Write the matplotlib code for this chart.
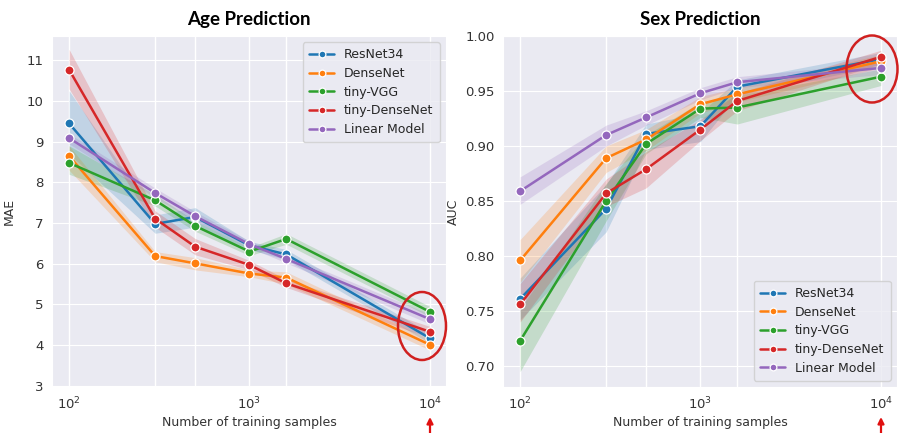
import numpy as np
import matplotlib
matplotlib.use('Agg')
from matplotlib import pyplot as plt
from matplotlib.patches import Ellipse
import seaborn as sns

# data
n_samples = [100, 300, 500, 1000, 1600, 10000]
models = ['ResNet34', 'DenseNet', 'tiny-VGG', 'tiny-DenseNet', 'Linear Model']

# age prediction (MAE): mean, lower, upper
age_mean = {
	'ResNet34':      [9.45, 6.98, 7.15, 6.45, 6.23, 4.17],
	'DenseNet':      [8.65, 6.19, 6.01, 5.76, 5.66, 4.01],
	'tiny-VGG':      [8.48, 7.56, 6.93, 6.30, 6.61, 4.82],
	'tiny-DenseNet': [10.77, 7.11, 6.42, 5.97, 5.52, 4.33],
	'Linear Model':  [9.09, 7.74, 7.17, 6.48, 6.12, 4.64],
}
age_lo = {
	'ResNet34':      [8.70, 6.75, 6.90, 6.35, 6.10, 4.05],
	'DenseNet':      [8.30, 6.05, 5.85, 5.68, 5.50, 3.88],
	'tiny-VGG':      [8.20, 7.42, 6.80, 6.20, 6.48, 4.70],
	'tiny-DenseNet': [10.30, 6.90, 6.22, 5.85, 5.42, 4.18],
	'Linear Model':  [8.95, 7.62, 7.05, 6.40, 6.02, 4.52],
}
age_hi = {
	'ResNet34':      [10.25, 7.20, 7.38, 6.55, 6.35, 4.30],
	'DenseNet':      [8.90, 6.30, 6.15, 5.85, 5.80, 4.14],
	'tiny-VGG':      [8.90, 7.70, 7.05, 6.40, 6.74, 4.95],
	'tiny-DenseNet': [11.27, 7.30, 6.62, 6.08, 5.62, 4.46],
	'Linear Model':  [9.20, 7.86, 7.28, 6.56, 6.22, 4.76],
}

# sex prediction (AUC): mean, lower, upper
sex_mean = {
	'ResNet34':      [0.761, 0.843, 0.911, 0.918, 0.954, 0.979],
	'DenseNet':      [0.796, 0.889, 0.906, 0.938, 0.947, 0.977],
	'tiny-VGG':      [0.723, 0.850, 0.902, 0.934, 0.935, 0.963],
	'tiny-DenseNet': [0.756, 0.857, 0.879, 0.915, 0.941, 0.981],
	'Linear Model':  [0.859, 0.910, 0.926, 0.948, 0.958, 0.971],
}
sex_lo = {
	'ResNet34':      [0.742, 0.822, 0.897, 0.904, 0.946, 0.973],
	'DenseNet':      [0.776, 0.876, 0.896, 0.930, 0.940, 0.971],
	'tiny-VGG':      [0.695, 0.832, 0.893, 0.926, 0.920, 0.955],
	'tiny-DenseNet': [0.740, 0.845, 0.862, 0.905, 0.932, 0.975],
	'Linear Model':  [0.847, 0.900, 0.919, 0.942, 0.953, 0.965],
}
sex_hi = {
	'ResNet34':      [0.780, 0.865, 0.920, 0.930, 0.960, 0.985],
	'DenseNet':      [0.815, 0.900, 0.915, 0.945, 0.953, 0.983],
	'tiny-VGG':      [0.752, 0.866, 0.910, 0.940, 0.946, 0.970],
	'tiny-DenseNet': [0.775, 0.870, 0.895, 0.924, 0.948, 0.987],
	'Linear Model':  [0.872, 0.919, 0.932, 0.953, 0.963, 0.976],
}

colors = ['#1f77b4', '#ff7f0e', '#2ca02c', '#d62728', '#9467bd']

sns.set_style('darkgrid')
plt.rcParams['font.family'] = ['DejaVu Sans']

W, H = 899, 433
fig = plt.figure(figsize=(W/100, H/100), dpi=100)
ax1 = fig.add_axes([52/W, 1-387/H, (446-52)/W, (387-36)/H])
ax2 = fig.add_axes([503/W, 1-387/H, (897-503)/W, (387-36)/H])

def draw(ax, mean, lo, hi, ylabel, title, ylim, yticks, yfmt, legloc) :
	for m, c in zip(models, colors) :
		ax.fill_between(n_samples, lo[m], hi[m], color=c, alpha=0.2, lw=0)
		ax.plot(n_samples, mean[m], '-o', color=c, lw=1.8, ms=6.5,
			mec='white', mew=0.9, label=m)
	ax.set_xscale('log')
	ax.set_xlim(10**1.905, 10**4.09)
	ax.set_xticks([100, 1000, 10000])
	ax.set_xticks([300, 500, 1600], minor=True)
	ax.xaxis.set_minor_formatter(plt.NullFormatter())
	ax.grid(True, which='both', axis='x', color='white', lw=1.0)
	ax.tick_params(which='both', length=0, labelsize=9.5, colors='#333333', pad=6)
	ax.set_ylim(*ylim)
	ax.set_yticks(yticks)
	ax.set_yticklabels([yfmt.format(v) for v in yticks])
	ax.set_xlabel('Number of training samples', fontsize=9, color='#333333', labelpad=3)
	ax.set_ylabel(ylabel, fontsize=9, color='#333333')
	ax.set_title(title, fontsize=13.5, fontweight='bold', color='black',
		family=['Lato', 'DejaVu Sans'], pad=8)
	leg = ax.legend(loc=legloc, fontsize=9, handlelength=2.0, borderpad=0.5,
		labelspacing=0.45, frameon=True, markerscale=0.75)
	leg.get_frame().set_edgecolor('#cccccc')

draw(ax1, age_mean, age_lo, age_hi, 'MAE', 'Age Prediction', (2.97, 11.6),
	[3, 4, 5, 6, 7, 8, 9, 10, 11], '{:d}', 'upper right')
draw(ax2, sex_mean, sex_lo, sex_hi, 'AUC', 'Sex Prediction', (0.681, 1.0),
	[0.70, 0.75, 0.80, 0.85, 0.90, 0.95, 1.00], '{:.2f}', 'lower right')
ax1.yaxis.labelpad = 8
ax2.yaxis.labelpad = 4

# red rings and arrows marking 10^4
for cx, cy, w, h in [(422, 326, 48, 68), (872, 69, 51, 67)] :
	fig.patches.append(Ellipse((cx/W, 1-cy/H), w/W, h/H, transform=fig.transFigure,
		fill=False, ec='#d02020', lw=1.8))
for ax_x in [430, 881] :
	fig.add_artist(plt.Annotation('', xy=(ax_x/W, 1-417/H), xytext=(ax_x/W, 1-434/H),
		xycoords='figure fraction', textcoords='figure fraction',
		arrowprops=dict(arrowstyle='-|>', color='#e01010', lw=1.6, mutation_scale=9,
			shrinkA=0, shrinkB=0)))

fig.savefig('out.png', dpi=100)
